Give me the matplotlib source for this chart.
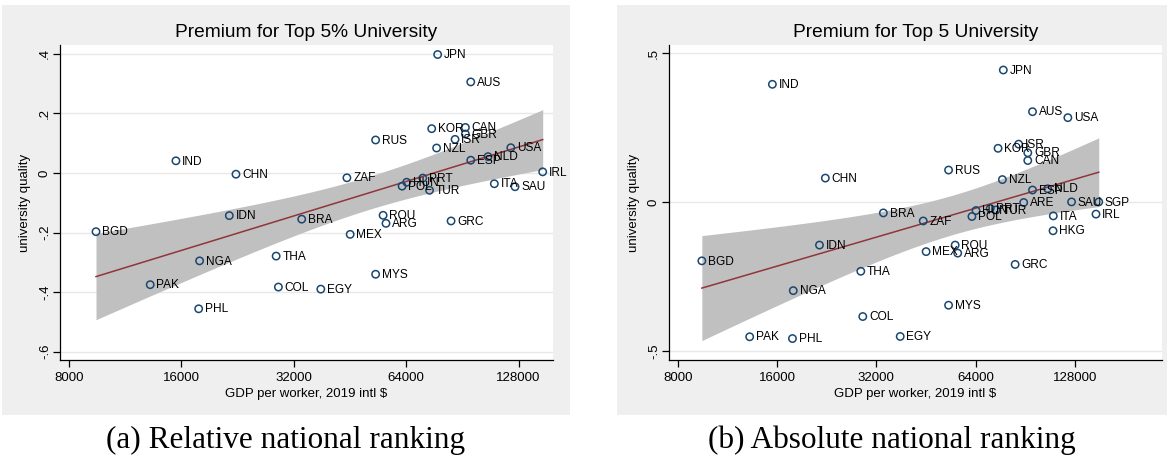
import numpy as np
import matplotlib
matplotlib.use("Agg")
import matplotlib.pyplot as plt
from matplotlib.ticker import FixedLocator, FuncFormatter, NullLocator
from matplotlib.patches import Rectangle

# ---------------- data ----------------
countries_a = ["BGD", "PAK", "IND", "PHL", "NGA", "IDN", "CHN", "THA", "COL", "BRA",
               "EGY", "ZAF", "MEX", "MYS", "RUS", "ROU", "ARG", "POL", "HUN", "PRT",
               "TUR", "KOR", "NZL", "JPN", "GRC", "ISR", "CAN", "GBR", "AUS", "ESP",
               "NLD", "ITA", "USA", "SAU", "IRL"]
gdp_a = [9450, 13200, 15470, 17800, 17900, 21500, 22400, 28700, 29100, 33600,
         37800, 44400, 45300, 53000, 53000, 55500, 56500, 62400, 64200, 70900,
         73900, 74900, 77200, 77700, 84400, 86500, 92200, 92200, 95300, 95300,
         106000, 110200, 122000, 125200, 148500]
quality_a = [-0.197, -0.375, 0.041, -0.456, -0.295, -0.143, -0.004, -0.279, -0.383, -0.155,
             -0.390, -0.016, -0.206, -0.340, 0.111, -0.142, -0.169, -0.044, -0.031, -0.017,
             -0.058, 0.149, 0.084, 0.398, -0.161, 0.113, 0.153, 0.131, 0.306, 0.043,
             0.055, -0.036, 0.085, -0.046, 0.004]

countries_b = ["BGD", "PAK", "IND", "PHL", "NGA", "IDN", "CHN", "THA", "COL", "BRA",
               "EGY", "ZAF", "MEX", "MYS", "RUS", "ROU", "ARG", "POL", "HUN", "PRT",
               "TUR", "KOR", "NZL", "JPN", "GRC", "ISR", "ARE", "CAN", "GBR", "AUS",
               "ESP", "NLD", "HKG", "ITA", "USA", "SAU", "IRL", "SGP"]
gdp_b = [9450, 13200, 15470, 17800, 17900, 21500, 22400, 28700, 29100, 33600,
         37800, 44400, 45300, 53000, 53000, 55500, 56500, 62400, 64200, 70900,
         73900, 74900, 77200, 77700, 84400, 86500, 89600, 92200, 92200, 95300,
         95300, 106000, 110000, 110200, 122000, 125200, 148500, 151400]
quality_b = [-0.197, -0.452, 0.396, -0.458, -0.297, -0.144, 0.081, -0.232, -0.384, -0.036,
             -0.451, -0.063, -0.166, -0.346, 0.108, -0.144, -0.171, -0.048, -0.028, -0.021,
             -0.026, 0.181, 0.076, 0.444, -0.209, 0.195, -0.001, 0.140, 0.166, 0.304,
             0.041, 0.045, -0.096, -0.046, 0.284, 0.001, -0.040, 0.001]

x_ticks = [8000, 16000, 32000, 64000, 128000]
y_ticks_a = [-0.6, -0.4, -0.2, 0.0, 0.2, 0.4]
y_ticks_b = [-0.5, 0.0, 0.5]
titles = ["Premium for Top 5% University", "Premium for Top 5 University"]
captions = ["(a) Relative national ranking", "(b) Absolute national ranking"]
xlabel = "GDP per worker, 2019 intl $"
ylabel = "university quality"

# ---------------- style ----------------
W, H = 1167, 463
panel_bg = "#efefef"
mark_col = "#1a476f"
line_col = "#90353b"
band_col = "#c0c0c0"
grid_col = "#e8e8e8"
sans = ["Liberation Sans", "DejaVu Sans"]
serif = ["Liberation Serif", "DejaVu Serif"]

fig = plt.figure(figsize=(W / 100, H / 100), dpi=100)
fig.patch.set_facecolor("white")

def fr(x0, y0, x1, y1):
    return [x0 / W, 1 - y1 / H, (x1 - x0) / W, (y1 - y0) / H]

# panel backgrounds
for (x0, x1) in [(2, 570), (617, 1167)]:
    fig.patches.append(Rectangle((x0 / W, 1 - 415 / H), (x1 - x0) / W, (415 - 5) / H,
                                 transform=fig.transFigure, facecolor=panel_bg,
                                 edgecolor="none", zorder=-10))

def stata_fmt(v, pos=None):
    if abs(v) < 1e-9:
        return "0"
    s = ("%g" % v)
    s = s.replace("0.", ".")
    return s

def fit_ci(x, y):
    lx = np.log2(np.asarray(x, float))
    y = np.asarray(y, float)
    n = len(lx)
    b, a = np.polyfit(lx, y, 1)
    res = y - (a + b * lx)
    s2 = np.sum(res ** 2) / (n - 2)
    xm = lx.mean()
    sxx = np.sum((lx - xm) ** 2)
    grid = np.linspace(lx.min(), lx.max(), 200)
    pred = a + b * grid
    se = np.sqrt(s2 * (1 / n + (grid - xm) ** 2 / sxx))
    t = 2.03
    return 2 ** grid, pred, pred - t * se, pred + t * se

def draw_panel(rect, countries, gdp, qual, yticks, ylim, xlim, title):
    ax = fig.add_axes(rect)
    ax.set_zorder(1)
    ax.set_facecolor("white")
    ax.set_xscale("log", base=2)
    ax.set_xlim(*xlim)
    ax.set_ylim(*ylim)
    gx, pred, lo, hi = fit_ci(gdp, qual)
    ax.fill_between(gx, lo, hi, color=band_col, linewidth=0, zorder=2)
    ax.plot(gx, pred, color=line_col, lw=1.1, zorder=3)
    ax.scatter(gdp, qual, s=28, facecolors="none", edgecolors=mark_col,
               linewidths=1.1, zorder=4)
    for c, gx_, gy_ in zip(countries, gdp, qual):
        ax.annotate(c, (gx_, gy_), xytext=(4.5, -0.5), textcoords="offset points",
                    va="center", ha="left", fontsize=8.6, family=sans, zorder=5)
    ax.xaxis.set_major_locator(FixedLocator(x_ticks))
    ax.xaxis.set_minor_locator(NullLocator())
    ax.xaxis.set_major_formatter(FuncFormatter(lambda v, p: "%d" % v))
    ax.yaxis.set_major_locator(FixedLocator(yticks))
    ax.yaxis.set_major_formatter(FuncFormatter(stata_fmt))
    for yt in yticks:
        ax.axhline(yt, color=grid_col, lw=1.0, zorder=1)
    for sp in ["top", "right"]:
        ax.spines[sp].set_visible(False)
    for sp in ["left", "bottom"]:
        ax.spines[sp].set_color("black")
        ax.spines[sp].set_linewidth(0.9)
    ax.tick_params(axis="both", direction="out", length=5, width=0.9, labelsize=9.5,
                   colors="black")
    ax.tick_params(axis="y", pad=1.5)
    for lab in ax.get_xticklabels() + ax.get_yticklabels():
        lab.set_family(sans)
    for lab in ax.get_yticklabels():
        lab.set_rotation(90)
        lab.set_va("center")
    ax.set_xlabel(xlabel, fontsize=9.5, family=sans, labelpad=3)
    ax.set_ylabel(ylabel, fontsize=9.5, family=sans, labelpad=6)
    ax.set_title(title, fontsize=13.8, family=sans, pad=6)
    return ax

# panel (a)
xa_lo = 8000 * 2 ** (-0.08)
xa_hi = 8000 * 2 ** 4.306
draw_panel(fr(60, 45, 553, 360), countries_a, gdp_a, quality_a, y_ticks_a,
           (-0.628, 0.43), (xa_lo, xa_hi), titles[0])
# panel (b)
xb_lo = 8000 * 2 ** (-0.091)
xb_hi = 8000 * 2 ** 4.88
draw_panel(fr(669, 45, 1162, 360), countries_b, gdp_b, quality_b, y_ticks_b,
           (-0.53, 0.528), (xb_lo, xb_hi), titles[1])

fig.text(286 / W, 1 - 440 / H, captions[0], ha="center", va="center",
         fontsize=22.5, family=serif)
fig.text(892 / W, 1 - 440 / H, captions[1], ha="center", va="center",
         fontsize=22.5, family=serif)

fig.savefig("out.png", dpi=100, facecolor="white")
